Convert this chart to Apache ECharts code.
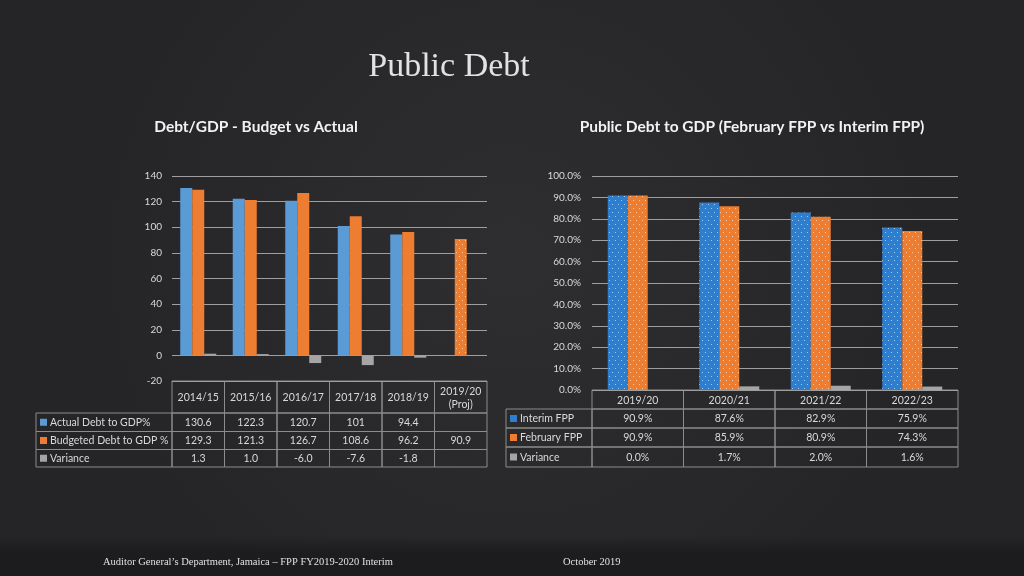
<!DOCTYPE html>
<html><head><meta charset="utf-8">
<script src="https://cdn.jsdelivr.net/npm/echarts@6/dist/echarts.min.js"></script>
<style>html,body{margin:0;padding:0;background:#2b2b2d}#c{width:1024px;height:576px}</style>
</head><body><div id="c"></div>
<script>
// ---- data ----
var leftCategories = ['2014/15','2015/16','2016/17','2017/18','2018/19','2019/20\n(Proj)'];
var actualDebt = [130.6, 122.3, 120.7, 101, 94.4, null];
var budgetedDebt = [129.3, 121.3, 126.7, 108.6, 96.2, 90.9];
var leftVariance = [1.3, 1.0, -6.0, -7.6, -1.8, null];
var leftSeriesNames = ['Actual Debt to GDP%', 'Budgeted Debt to GDP %', 'Variance'];

var rightCategories = ['2019/20','2020/21','2021/22','2022/23'];
var interimFPP = [90.9, 87.6, 82.9, 75.9];
var februaryFPP = [90.9, 85.9, 80.9, 74.3];
var rightVariance = [0.0, 1.7, 2.0, 1.6];
var rightSeriesNames = ['Interim FPP', 'February FPP', 'Variance'];

// ---- styles ----
var TXT = '#d9d9d9', BORDER = '#8c8c8c', GRID = '#9e9e9e';
var FONT = 'Lato, "Noto Sans", sans-serif';
var leftColors = ['#5B9BD5', '#ED7D31', '#A5A5A5'];
var rightColors = ['#2E7ED0', '#ED7D31', '#A5A5A5'];
var dots = {color:'rgba(255,255,255,0.6)', symbol:'rect', symbolSize:1,
  dashArrayX:[[1,5],[0,3,1,2]], dashArrayY:[1,3]};

var L = {x0:172, x1:487, top:176, bottom:381, legX:36};
var R = {x0:592, x1:958, top:176, bottom:390, legX:506};

var chart = echarts.init(document.getElementById('c'), null, {renderer:'canvas'});
var graphics = [];

function cell(x,y,w,h){
  graphics.push({type:'rect', silent:true, shape:{x:x,y:y,width:w,height:h},
    style:{fill:'rgba(0,0,0,0)', stroke:BORDER, lineWidth:1}});
}
function txt(x,y,s,align,size){
  graphics.push({type:'text', silent:true, x:x, y:y, style:{text:s, fill:TXT, font: (size||10.5)+'px '+FONT,
    textAlign:align||'center', textVerticalAlign:'middle', lineHeight:13}});
}
function table(T, cats, rowsY, headerH, rows, names, colors, fmts){
  var n = cats.length, cw = (T.x1 - T.x0)/n;
  for (var i=0;i<n;i++){ cell(T.x0+i*cw, T.bottom, cw, headerH); txt(T.x0+(i+0.5)*cw, T.bottom+headerH/2+1, cats[i]); }
  var y = T.bottom + headerH;
  for (var r=0;r<rows.length;r++){
    var h = rowsY[r];
    cell(T.legX, y, T.x0-T.legX, h);
    graphics.push({type:'rect', silent:true, shape:{x:T.legX+4, y:y+h/2-3.5, width:7, height:7}, style:{fill:colors[r]}});
    txt(T.legX+14, y+h/2+0.5, names[r], 'left');
    for (var i=0;i<n;i++){
      cell(T.x0+i*cw, y, cw, h);
      var v = rows[r][i];
      if (v !== null && v !== undefined) txt(T.x0+(i+0.5)*cw, y+h/2+0.5, fmts[r](v));
    }
    y += h;
  }
}

table(L, leftCategories, [18.5,18,17.5], 32, [actualDebt, budgetedDebt, leftVariance], leftSeriesNames, leftColors,
  [function(v){return String(v);}, function(v){return String(v);}, function(v){return v.toFixed(1);}]);
table(R, rightCategories, [19,19,20], 19, [interimFPP, februaryFPP, rightVariance], rightSeriesNames, rightColors,
  [function(v){return v.toFixed(1)+'%';}, function(v){return v.toFixed(1)+'%';}, function(v){return v.toFixed(1)+'%';}]);

// titles and footer
graphics.unshift({type:'rect', silent:true, shape:{x:0,y:536,width:1024,height:40},
  style:{fill:new echarts.graphic.LinearGradient(0,0,0,1,[{offset:0,color:'rgba(28,28,30,0)'},{offset:0.4,color:'#1d1d1f'},{offset:1,color:'#1b1b1d'}])}});
graphics.push({type:'text', silent:true, x:449, y:67, style:{text:'Public Debt', fill:'#e2e2e2', font:'34px "Liberation Serif", "DejaVu Serif", serif', textAlign:'center', textVerticalAlign:'middle'}});
graphics.push({type:'text', silent:true, x:256, y:127, style:{text:'Debt/GDP - Budget vs Actual', fill:'#f2f2f2', font:'bold 15.5px '+FONT, textAlign:'center', textVerticalAlign:'middle'}});
graphics.push({type:'text', silent:true, x:752, y:127, style:{text:'Public Debt to GDP (February FPP vs Interim FPP)', fill:'#f2f2f2', font:'bold 15.5px '+FONT, textAlign:'center', textVerticalAlign:'middle'}});
graphics.push({type:'text', silent:true, x:103, y:562, style:{text:'Auditor General\u2019s Department, Jamaica \u2013 FPP FY2019-2020 Interim', fill:'#e0e0e0', font:'10.5px "Liberation Serif", serif', textAlign:'left', textVerticalAlign:'middle'}});
graphics.push({type:'text', silent:true, x:563, y:562, style:{text:'October 2019', fill:'#e0e0e0', font:'10.5px "Liberation Serif", serif', textAlign:'left', textVerticalAlign:'middle'}});

var budgetData = budgetedDebt.map(function(v,i){
  return i === budgetedDebt.length-1 ? {value:v, itemStyle:{decal:dots}} : v;
});

var yAxisCommon = {
  axisLine:{show:false}, axisTick:{show:false},
  axisLabel:{color:TXT, fontSize:10, fontFamily:FONT, margin:10},
  splitLine:{lineStyle:{color:GRID, width:1}}
};

chart.setOption({
  backgroundColor: new echarts.graphic.RadialGradient(0.5,0.45,0.75,[{offset:0,color:'#2e2e30'},{offset:1,color:'#252527'}]),
  animation:false,
  grid:[
    {left:L.x0, right:1024-L.x1, top:L.top, bottom:576-L.bottom},
    {left:R.x0, right:1024-R.x1, top:R.top, bottom:576-R.bottom}
  ],
  xAxis:[
    {type:'category', gridIndex:0, data:leftCategories, axisLine:{show:false}, axisTick:{show:false}, axisLabel:{show:false}},
    {type:'category', gridIndex:1, data:rightCategories, axisLine:{show:false}, axisTick:{show:false}, axisLabel:{show:false}}
  ],
  yAxis:[
    Object.assign({type:'value', gridIndex:0, min:-20, max:140, interval:20}, yAxisCommon),
    Object.assign({type:'value', gridIndex:1, min:0, max:100, interval:10}, yAxisCommon,
      {axisLabel:{color:TXT, fontSize:10, fontFamily:FONT, margin:11, formatter:function(v){return v.toFixed(1)+'%';}}})
  ],
  series:[
    {type:'bar', name:leftSeriesNames[0], xAxisIndex:0, yAxisIndex:0, data:actualDebt, barWidth:12, barGap:'0%', itemStyle:{color:leftColors[0]}},
    {type:'bar', name:leftSeriesNames[1], xAxisIndex:0, yAxisIndex:0, data:budgetData, barWidth:12, barGap:'0%', itemStyle:{color:leftColors[1]}},
    {type:'bar', name:leftSeriesNames[2], xAxisIndex:0, yAxisIndex:0, data:leftVariance, barWidth:12, barGap:'0%', itemStyle:{color:leftColors[2]}},
    {type:'bar', name:rightSeriesNames[0], xAxisIndex:1, yAxisIndex:1, data:interimFPP, barWidth:20, barGap:'0%', itemStyle:{color:rightColors[0], decal:dots}},
    {type:'bar', name:rightSeriesNames[1], xAxisIndex:1, yAxisIndex:1, data:februaryFPP, barWidth:20, barGap:'0%', itemStyle:{color:rightColors[1], decal:dots}},
    {type:'bar', name:rightSeriesNames[2], xAxisIndex:1, yAxisIndex:1, data:rightVariance, barWidth:20, barGap:'0%', itemStyle:{color:rightColors[2]}}
  ],
  graphic: graphics
});
</script></body></html>
